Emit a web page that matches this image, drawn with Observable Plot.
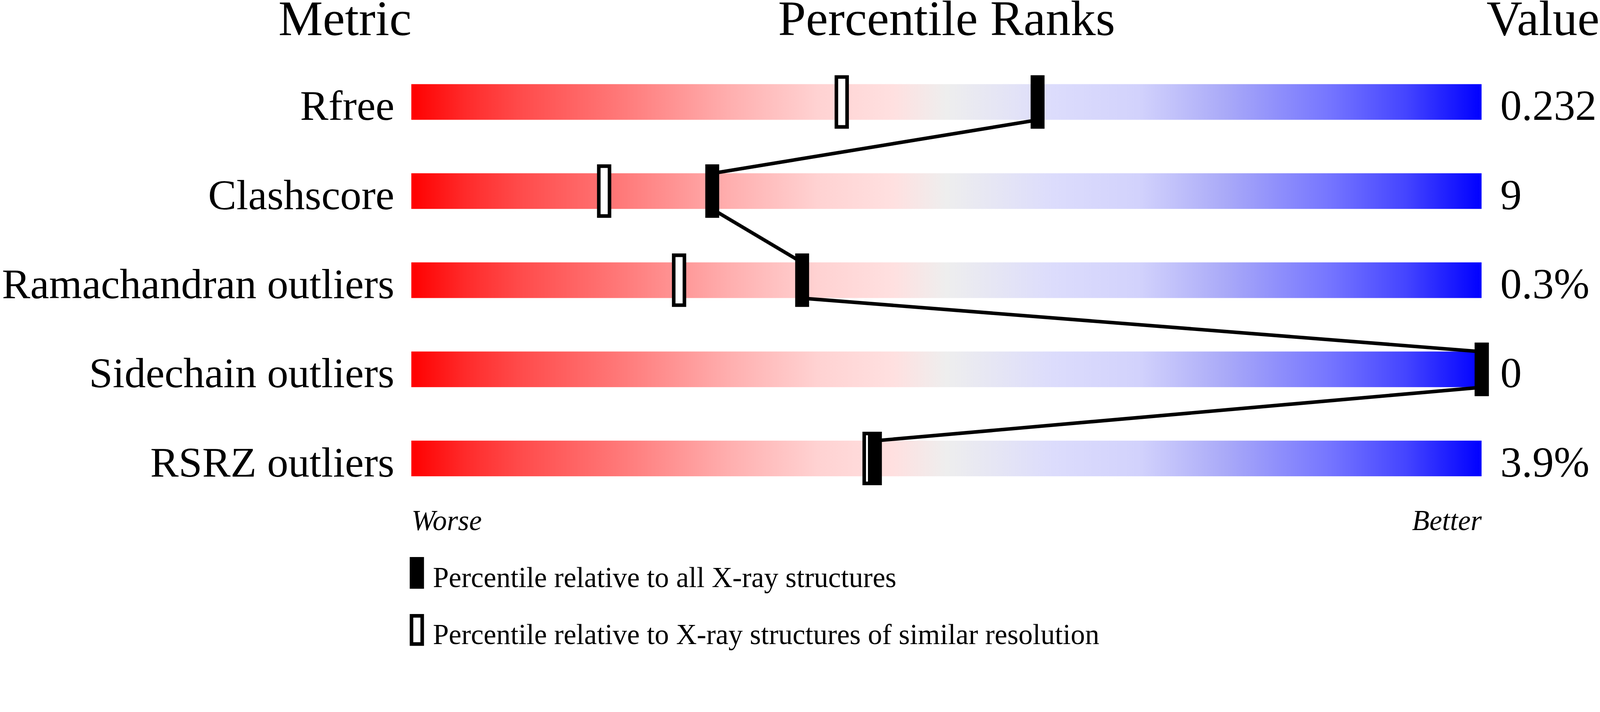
<!DOCTYPE html>
<html>
<head>
<meta charset="utf-8">
<script src="https://cdn.jsdelivr.net/npm/d3@7"></script>
<script src="https://cdn.jsdelivr.net/npm/@observablehq/plot@0.6"></script>
<style>
  html, body { margin: 0; padding: 0; background: #ffffff; overflow: hidden; }
  #chart svg { display: block; }
</style>
</head>
<body>
<div id="chart"></div>
<script>
// ---- data ----
const metrics = ["Rfree", "Clashscore", "Ramachandran outliers", "Sidechain outliers", "RSRZ outliers"];
const values = ["0.232", "9", "0.3%", "0", "3.9%"];
const pctAll = [58.5, 28.1, 36.5, 100, 43.3];       // percentile relative to all X-ray structures
const pctSimilar = [40.2, 18.0, 25.0, 100, 42.8];   // percentile relative to similar resolution
const headers = ["Metric", "Percentile Ranks", "Value"];
const endLabels = ["Worse", "Better"];
const legendLabels = ["Percentile relative to all X-ray structures",
                      "Percentile relative to X-ray structures of similar resolution"];
const xDomain = [0, 100];
const gradientStops = [
  [0.00, "#ff0000"], [0.05, "#ff2a2a"], [0.10, "#ff4a4a"], [0.20, "#ff7b7b"],
  [0.30, "#ffb0b0"], [0.38, "#ffd2d2"], [0.45, "#ffe0e0"], [0.50, "#eeeeee"],
  [0.60, "#dcdcfc"], [0.68, "#d2d2fc"], [0.76, "#aaaaf8"], [0.86, "#7474ff"],
  [0.93, "#4444ff"], [1.00, "#0000ff"]
];

// ---- derived tables ----
const half = 0.2, markHalf = 0.3, innerHalf = 0.26;
const rows = metrics.map((metric, i) => ({metric, row: i, value: values[i], all: pctAll[i], similar: pctSimilar[i]}));
const links = d3.pairs(rows).map(([a, b]) => ({x1: a.all, y1: a.row + half, x2: b.all, y2: b.row - half}));

const font = '"Liberation Serif", "Times New Roman", Times, Tinos, "Nimbus Roman", "DejaVu Serif", "Noto Serif", serif';

const gradientDefs = () => {
  const d = d3.create("svg:defs");
  const g = d.append("linearGradient").attr("id", "slider")
    .attr("x1", "0").attr("x2", "1").attr("y1", "0").attr("y2", "0");
  for (const [o, c] of gradientStops) g.append("stop").attr("offset", o).attr("stop-color", c);
  return d.node();
};

// legend swatch symbols (fixed-size rectangles)
const filledSwatch = {draw(ctx) { ctx.rect(-20, -44.5, 40, 89); }};
const openSwatch = {draw(ctx) { ctx.rect(-15, -39.5, 30, 79); }};

const txt = {fontFamily: font, fill: "black"};

const plot = Plot.plot({
  width: 4485,
  height: 1824,
  marginTop: 0, marginRight: 0, marginBottom: 0, marginLeft: 0,
  x: {domain: xDomain, range: [1153, 4153], axis: null},
  y: {domain: [0, metrics.length - 1], range: [286, 1286], axis: null},
  style: {fontFamily: font, background: "white", color: "black"},
  marks: [
    gradientDefs,
    // slider bars
    Plot.rect(rows, {x1: xDomain[0], x2: xDomain[1], y1: d => d.row - half, y2: d => d.row + half, fill: "url(#slider)"}),
    // similar-resolution (open) markers
    Plot.ruleX(rows, {x: "similar", y1: d => d.row - markHalf, y2: d => d.row + markHalf, stroke: "black", strokeWidth: 40}),
    Plot.ruleX(rows, {x: "similar", y1: d => d.row - innerHalf, y2: d => d.row + innerHalf, stroke: "white", strokeWidth: 20}),
    // connecting line
    Plot.link(links, {x1: "x1", y1: "y1", x2: "x2", y2: "y2", stroke: "black", strokeWidth: 10}),
    // all-structures (filled) markers
    Plot.ruleX(rows, {x: "all", y1: d => d.row - markHalf, y2: d => d.row + markHalf, stroke: "black", strokeWidth: 39}),
    // metric names and values
    Plot.text(rows, {x: xDomain[0], y: d => d.row + half, text: "metric", textAnchor: "end", lineAnchor: "bottom",
                     dx: -48, fontSize: 119, ...txt}),
    Plot.text(rows, {x: xDomain[1], y: d => d.row + half, text: "value", textAnchor: "start", lineAnchor: "bottom",
                     dx: 52, fontSize: 120, ...txt}),
    // column headers
    Plot.text([headers[0]], {x: xDomain[0], frameAnchor: "top", text: d => d, textAnchor: "end", lineAnchor: "bottom",
                     dy: 98, fontSize: 140, ...txt}),
    Plot.text([headers[1]], {x: (xDomain[0] + xDomain[1]) / 2, frameAnchor: "top", text: d => d, textAnchor: "middle",
                     lineAnchor: "bottom", dy: 98, fontSize: 140, ...txt}),
    Plot.text([headers[2]], {x: xDomain[1], frameAnchor: "top", text: d => d, textAnchor: "end", lineAnchor: "bottom",
                     dx: 330, dy: 98, fontSize: 139, ...txt}),
    // Worse / Better
    Plot.text([endLabels[0]], {x: xDomain[0], frameAnchor: "bottom", text: d => d, textAnchor: "start", lineAnchor: "bottom",
                     dy: -337, fontSize: 80, fontStyle: "italic", ...txt}),
    Plot.text([endLabels[1]], {x: xDomain[1], frameAnchor: "bottom", text: d => d, textAnchor: "end", lineAnchor: "bottom",
                     dy: -337, fontSize: 80, fontStyle: "italic", ...txt}),
    // legend
    Plot.dot([legendLabels[0]], {x: xDomain[0], frameAnchor: "bottom", symbol: filledSwatch, r: 10,
                     fill: "black", stroke: "none", dx: 15, dy: -217.5}),
    Plot.text([legendLabels[0]], {x: xDomain[0], frameAnchor: "bottom", text: d => d, textAnchor: "start", lineAnchor: "bottom",
                     dx: 60, dy: -178, fontSize: 80, ...txt}),
    Plot.dot([legendLabels[1]], {x: xDomain[0], frameAnchor: "bottom", symbol: openSwatch, r: 10,
                     fill: "white", stroke: "black", strokeWidth: 10, dx: 15, dy: -57.5}),
    Plot.text([legendLabels[1]], {x: xDomain[0], frameAnchor: "bottom", text: d => d, textAnchor: "start", lineAnchor: "bottom",
                     dx: 60, dy: -18, fontSize: 80, ...txt})
  ]
});
document.getElementById("chart").appendChild(plot);
</script>
</body>
</html>
